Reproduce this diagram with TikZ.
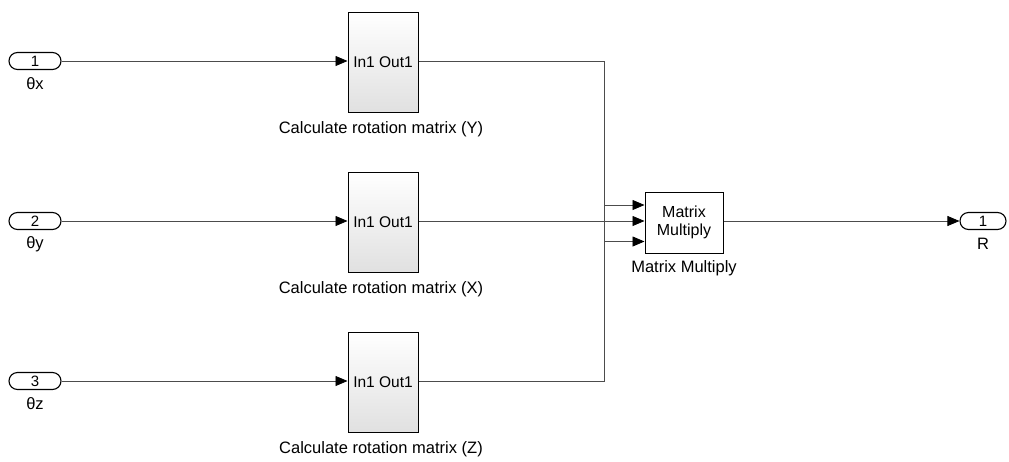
\documentclass[tikz,border=0pt]{standalone}
\usepackage{fontspec}
\setmainfont{Liberation Sans}
\usetikzlibrary{arrows.meta,shapes.misc}
\begin{document}
\begin{tikzpicture}[x=1pt,y=-1pt,
  port/.style={draw,rounded rectangle,line width=1.1pt,minimum width=52pt,minimum height=17pt,inner sep=0pt,font=\fontsize{15}{15}\selectfont},
  sub/.style={draw,line width=1pt,minimum width=70pt,minimum height=100pt,inner sep=0pt,top color=white,bottom color=black!12,font=\fontsize{15.5}{15.5}\selectfont},
  mm/.style={draw,line width=1pt,minimum width=78pt,minimum height=61pt,inner sep=0pt,fill=white,align=center,font=\fontsize{16}{18}\selectfont},
  lbl/.style={font=\fontsize{16.5}{16.5}\selectfont,inner sep=0pt},
  wire/.style={line width=0.8pt,draw=black!70},
  arr/.style={wire,-{Triangle[length=12pt,width=10pt,fill=black,color=black]}}]
\useasboundingbox (0,0) rectangle (1009,461);
\node[port] (p1) at (35,61) {1};
\node[port] (p2) at (35,221) {2};
\node[port] (p3) at (35,381) {3};
\node[lbl] at (35,84) {θx};
\node[lbl] at (35,244) {θy};
\node[lbl] at (35,404) {θz};
\node[sub] (s1) at (383,62) {In1 Out1};
\node[sub] (s2) at (383,222) {In1 Out1};
\node[sub] (s3) at (383,382) {In1 Out1};
\node[lbl] at (381,129) {Calculate rotation matrix (Y)};
\node[lbl] at (381,289) {Calculate rotation matrix (X)};
\node[lbl] at (381,449) {Calculate rotation matrix (Z)};
\node[mm] (m) at (684,222.5) {Matrix\\Multiply};
\node[lbl] at (684,268) {Matrix Multiply};
\node[port,minimum width=46pt] (o) at (983,221) {1};
\node[lbl] at (983,244) {R};
\coordinate (j1) at (604,61);
\coordinate (j3) at (604,381);
\coordinate (m1) at ([yshift=-19pt]m.west);
\coordinate (m3) at ([yshift=17.5pt]m.west);
\draw[arr] (p1.east) -- (s1.west |- p1.east);
\draw[arr] (p2.east) -- (s2.west |- p2.east);
\draw[arr] (p3.east) -- (s3.west |- p3.east);
\draw[arr] (s1.east |- p1.east) -- (j1) |- (m1);
\draw[arr] (s2.east |- p2.east) -- (m.west |- p2.east);
\draw[arr] (s3.east |- p3.east) -- (j3) |- (m3);
\draw[arr] (m.east |- o.west) -- (o.west);
\end{tikzpicture}
\end{document}
